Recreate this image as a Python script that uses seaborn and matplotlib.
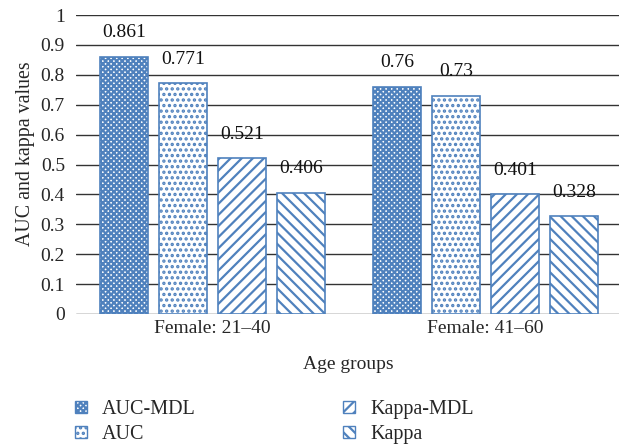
import matplotlib
matplotlib.use("Agg")
import matplotlib.pyplot as plt
from matplotlib.patches import Patch
import seaborn as sns
import pandas as pd

groups = ["Female: 21\u201340", "Female: 41\u201360"]
series = ["AUC-MDL", "AUC", "Kappa-MDL", "Kappa"]
auc_mdl = [0.861, 0.76]
auc = [0.771, 0.73]
kappa_mdl = [0.521, 0.401]
kappa = [0.406, 0.328]
yticks = [0, 0.1, 0.2, 0.3, 0.4, 0.5, 0.6, 0.7, 0.8, 0.9, 1]

rows = []
for name, vals in zip(series, [auc_mdl, auc, kappa_mdl, kappa]):
    for g, v in zip(groups, vals):
        rows.append({"group": g, "series": name, "value": v})
df = pd.DataFrame(rows)

sns.set_theme(style="white")
plt.rcParams["font.family"] = ["Liberation Serif", "DejaVu Serif"]
plt.rcParams["hatch.linewidth"] = 1.6
blue = "#4F81BD"
hatches = {"AUC-MDL": "xxxxxx", "AUC": "...", "Kappa-MDL": "///", "Kappa": "\\\\\\"}
fs = 14

fig = plt.figure(figsize=(6.19, 4.48), dpi=100)
ax = fig.add_axes([76/619, 1-314/448, 546/619, 299/448])

sns.barplot(data=df, x="group", y="value", hue="series", hue_order=series,
            order=groups, width=0.865, gap=0.18, palette=["white"]*4,
            edgecolor=blue, linewidth=1.2, ax=ax, legend=False)

for cont, name in zip(ax.containers, series):
    for p in cont:
        p.set_hatch(hatches[name])
        p.set_edgecolor(blue)
        p.set_facecolor("white")
    ax.bar_label(cont, labels=[f"{v:g}" for v in df[df.series == name].value],
                 padding=11, fontsize=fs, color="#111111")

ax.set_ylim(0, 1)
ax.set_xlim(-0.5, 1.5)
ax.set_yticks(yticks)
ax.set_yticklabels([f"{t:g}" for t in yticks], fontsize=fs)
for t in yticks:
    ax.axhline(t, color="#333333", lw=1.0, zorder=0)
for s in ["top", "right", "left", "bottom"]:
    ax.spines[s].set_visible(False)
ax.tick_params(axis="y", length=0, pad=8)
ax.tick_params(axis="x", length=0, pad=4, labelsize=fs)
ax.set_ylabel("AUC and kappa values", fontsize=14.3, labelpad=4)
ax.yaxis.label.set_y((314-154)/299)
ax.set_xlabel("Age groups", fontsize=fs, labelpad=14)
ax.xaxis.label.set_x((348-76)/546)

handles = [Patch(facecolor="white", edgecolor=blue, hatch=hatches[n], label=n) for n in series]
fig.legend(handles=handles, ncol=2, loc="upper left", bbox_to_anchor=(75/619, 1-400/448),
           frameon=False, fontsize=14.5, handlelength=0.6, handleheight=0.6,
           borderpad=0, borderaxespad=0,
           columnspacing=7.3, labelspacing=0.3, handletextpad=0.75)

fig.savefig("out.png", dpi=100)
